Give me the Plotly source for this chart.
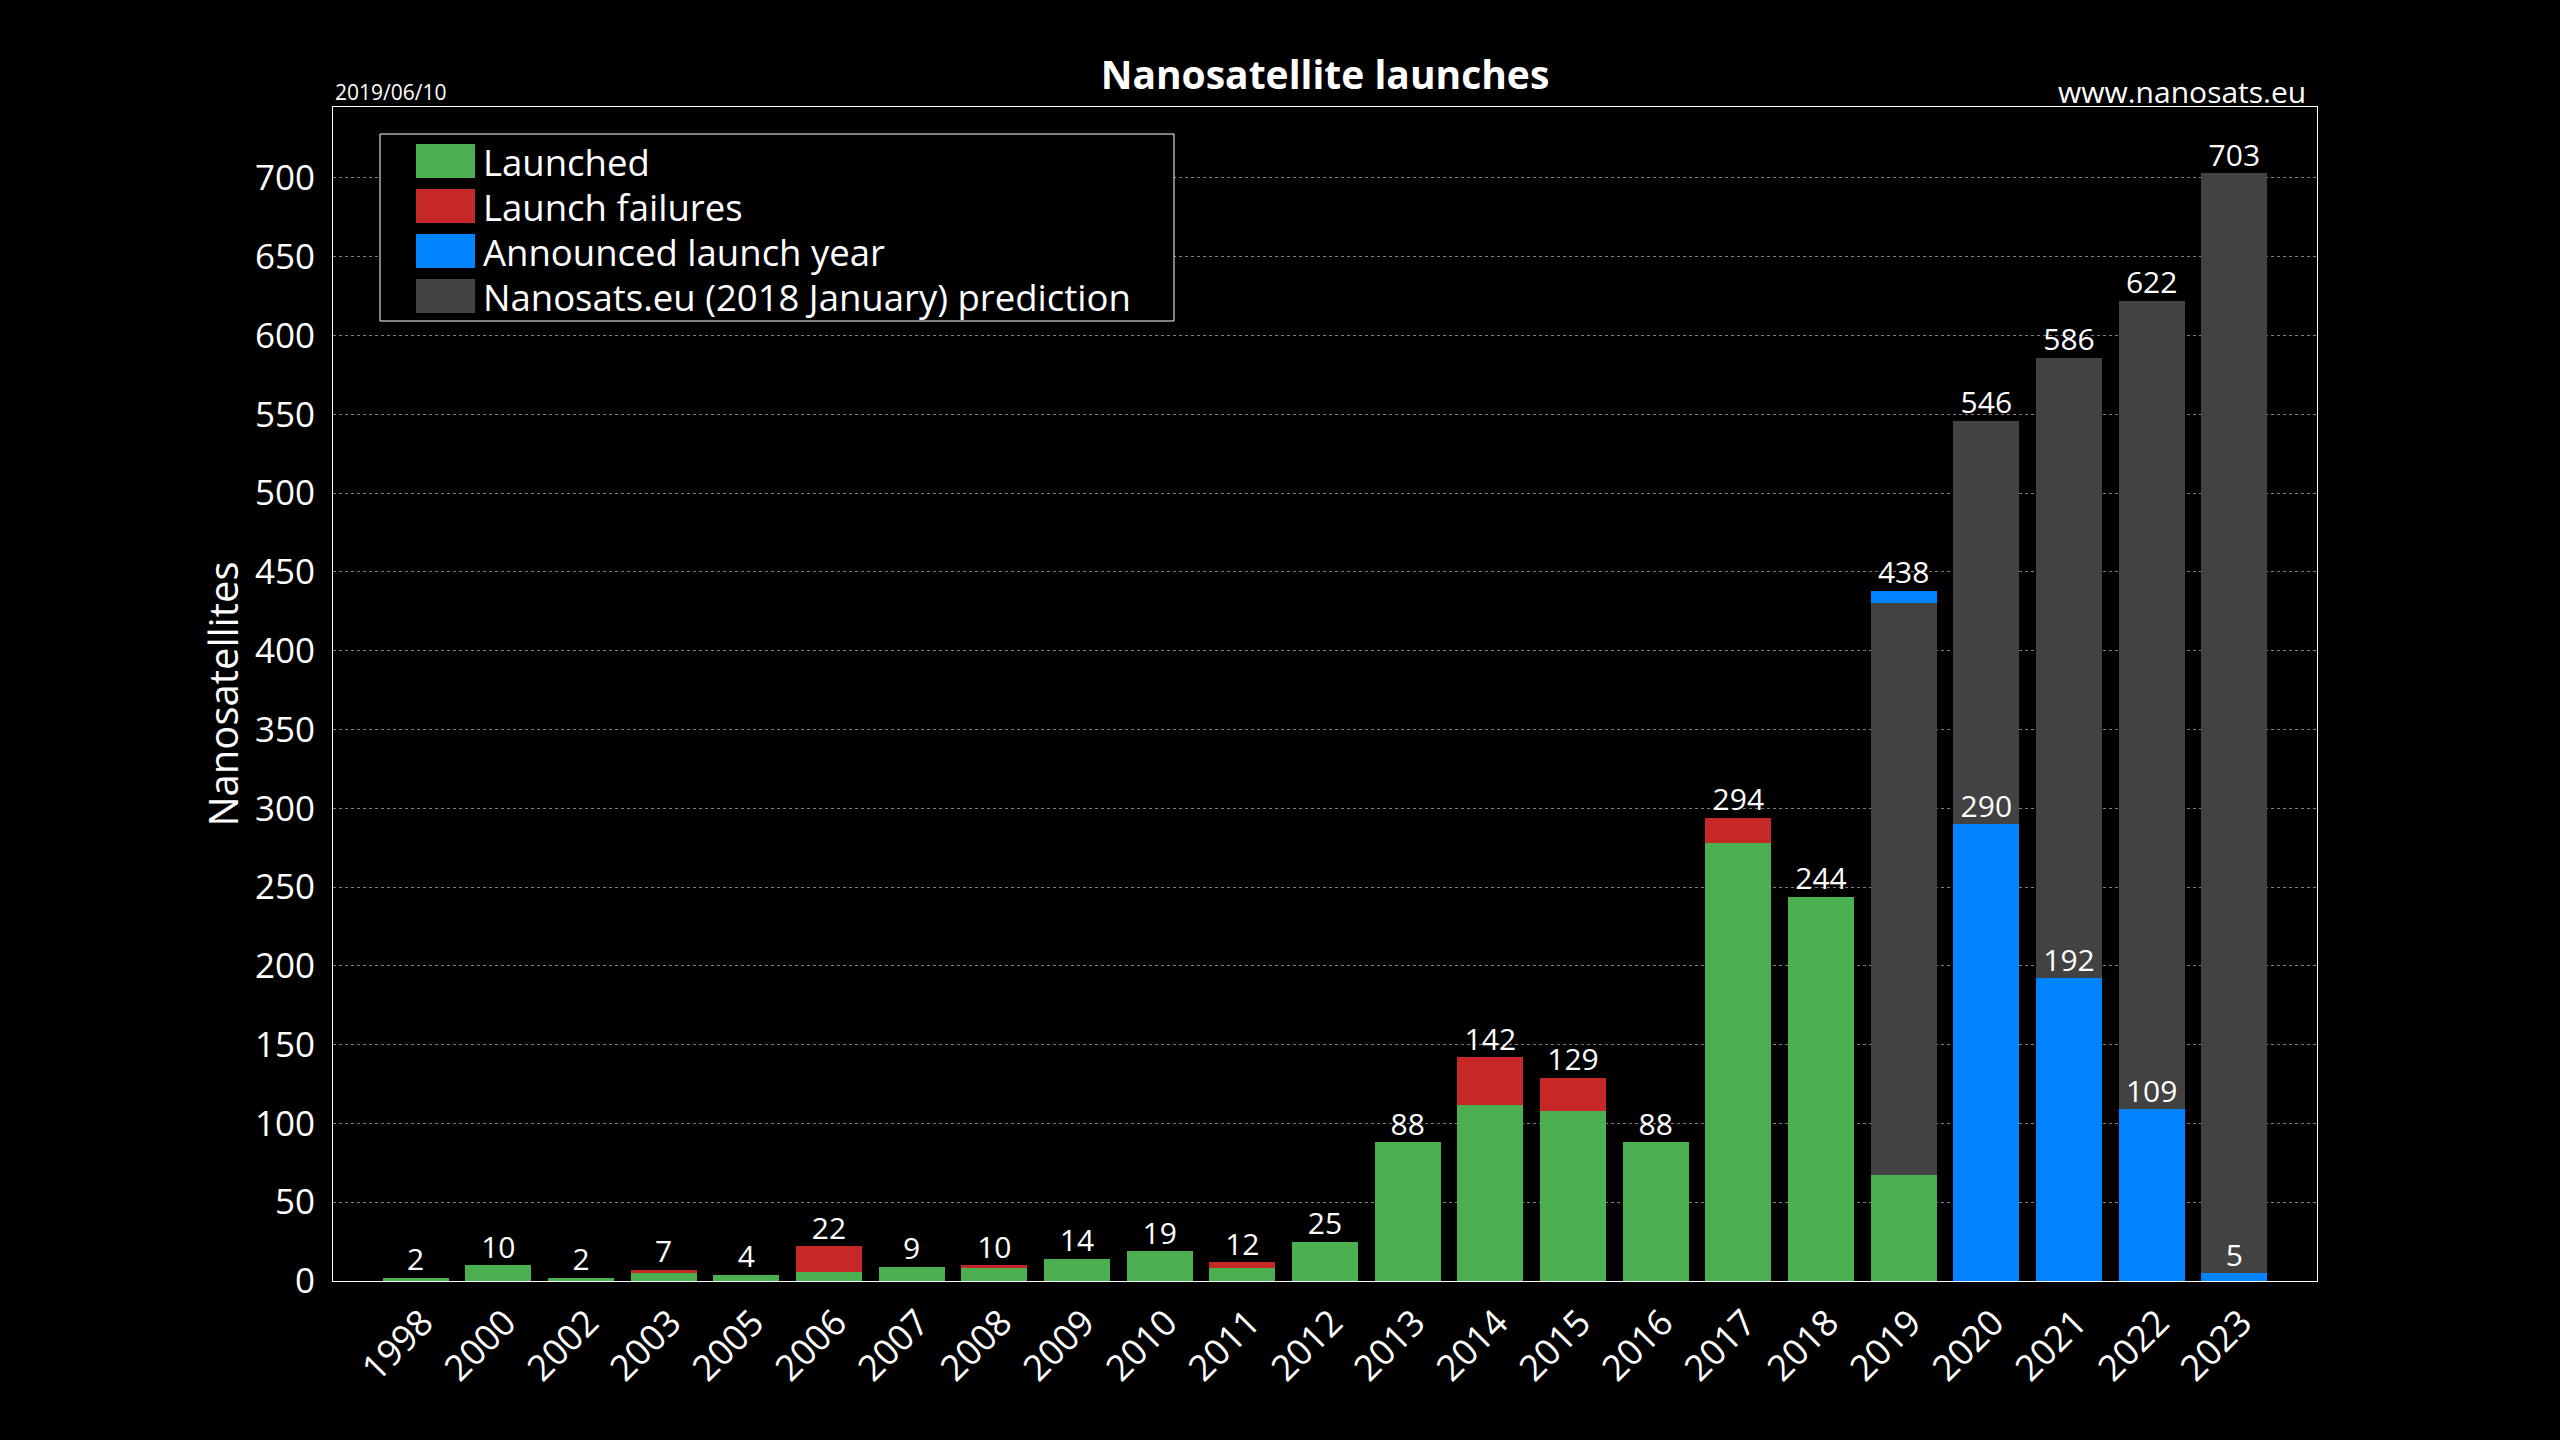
import plotly.graph_objects as go

# ---------------- data ----------------
years = ['1998', '2000', '2002', '2003', '2005', '2006', '2007', '2008', '2009', '2010',
         '2011', '2012', '2013', '2014', '2015', '2016', '2017', '2018', '2019', '2020',
         '2021', '2022', '2023']
launched = [2, 10, 2, 5, 4, 6, 9, 8, 14, 19, 8, 25, 88, 112, 108, 88, 278, 244, 67, 0, 0, 0, 0]
failures = [0, 0, 0, 2, 0, 16, 0, 2, 0, 0, 4, 0, 0, 30, 21, 0, 16, 0, 0, 0, 0, 0, 0]
announced = [0, 0, 0, 0, 0, 0, 0, 0, 0, 0, 0, 0, 0, 0, 0, 0, 0, 0, 8, 290, 192, 109, 5]
prediction = [0, 0, 0, 0, 0, 0, 0, 0, 0, 0, 0, 0, 0, 0, 0, 0, 0, 0, 363, 256, 394, 513, 698]

series_names = ['Launched', 'Launch failures', 'Announced launch year',
                'Nanosats.eu (2018 January) prediction']
series_colors = ['#4caf50', '#c62828', '#0084ff', '#424242']

title_text = 'Nanosatellite launches'
date_text = '2019/06/10'
site_text = 'www.nanosats.eu'
y_title = 'Nanosatellites'

# ---------------- derived ----------------
totals = [a + b + c + d for a, b, c, d in zip(launched, failures, announced, prediction)]
# announced segment sits at the bottom for future years, on top when launches exist
ann_bottom = [a if l == 0 else 0 for a, l in zip(announced, launched)]
ann_top = [a if l > 0 else 0 for a, l in zip(announced, launched)]
ann_label_x = [y for y, a, l in zip(years, announced, launched) if a > 0 and l == 0]
ann_label_y = [a for a, l in zip(announced, launched) if a > 0 and l == 0]

FONT = 'Open Sans'
W, H = 2560, 1440
ML, MR, MT, MB = 333, 243, 107, 159
PW, PH = W - ML - MR, H - MT - MB


def px(x):
    return (x - ML) / PW


def py(y):
    return (H - MB - y) / PH


fig = go.Figure()
bar_common = dict(x=years, marker_line_width=0, hoverinfo='x+y', showlegend=False)
fig.add_trace(go.Bar(y=launched, name=series_names[0], marker_color=series_colors[0], **bar_common))
fig.add_trace(go.Bar(y=failures, name=series_names[1], marker_color=series_colors[1], **bar_common))
fig.add_trace(go.Bar(y=ann_bottom, name=series_names[2], marker_color=series_colors[2], **bar_common))
fig.add_trace(go.Bar(y=prediction, name=series_names[3], marker_color=series_colors[3], **bar_common))
fig.add_trace(go.Bar(y=ann_top, name=series_names[2], marker_color=series_colors[2], **bar_common))

fig.add_trace(go.Scatter(x=years, y=totals, text=[str(t) for t in totals], mode='text',
                         textposition='top center', showlegend=False, hoverinfo='skip',
                         textfont=dict(family=FONT, size=30, color='white')))
fig.add_trace(go.Scatter(x=ann_label_x, y=ann_label_y, text=[str(t) for t in ann_label_y],
                         mode='text', textposition='top center', showlegend=False,
                         hoverinfo='skip', textfont=dict(family=FONT, size=30, color='white')))

# ---------------- manual legend ----------------
shapes = [dict(type='rect', xref='paper', yref='paper', x0=px(380), x1=px(1174),
               y0=py(321), y1=py(134), line=dict(color='white', width=1),
               fillcolor='black', layer='above')]
annotations = []
for i, (nm, col) in enumerate(zip(series_names, series_colors)):
    top = 144 + 45 * i
    shapes.append(dict(type='rect', xref='paper', yref='paper', x0=px(416), x1=px(475),
                       y0=py(top + 34), y1=py(top), line=dict(width=0), fillcolor=col,
                       layer='above'))
    annotations.append(dict(text=nm, xref='paper', yref='paper', x=px(481), y=py(top + 18),
                            xanchor='left', yanchor='middle', showarrow=False,
                            font=dict(family=FONT, size=36.5, color='white')))

annotations.append(dict(text=date_text, xref='paper', yref='paper', x=0, y=py(92),
                        xanchor='left', yanchor='middle', showarrow=False,
                        font=dict(family=FONT, size=21, color='white')))
annotations.append(dict(text=site_text, xref='paper', yref='paper', x=px(2308), y=py(92),
                        xanchor='right', yanchor='middle', showarrow=False,
                        font=dict(family=FONT, size=30, color='white')))

fig.update_layout(
    width=W, height=H,
    margin=dict(l=ML, r=MR, t=MT, b=MB, pad=0),
    paper_bgcolor='black', plot_bgcolor='black',
    font=dict(family=FONT, color='white'),
    barmode='stack', bargap=0.2,
    showlegend=False,
    title=dict(text='<b>' + title_text + '</b>', x=0.5, xref='paper', xanchor='center',
               y=1 - 75 / H, yanchor='middle',
               font=dict(family=FONT, size=39, color='white')),
    shapes=shapes, annotations=annotations,
)
fig.update_xaxes(type='category', range=[-1, len(years)], tickangle=-45,
                 tickfont=dict(family=FONT, size=36, color='white'),
                 showline=True, mirror=True, linecolor='white', linewidth=1,
                 showgrid=False, ticks='', zeroline=False,
                 ticklabelshift=7, ticklabelstandoff=5)
fig.update_yaxes(range=[0, 745], tick0=0, dtick=50,
                 tickfont=dict(family=FONT, size=35, color='white'),
                 showgrid=True, gridcolor='#808080', gridwidth=1, griddash='dot',
                 showline=True, mirror=True, linecolor='white', linewidth=1,
                 ticks='', zeroline=False, ticklabelstandoff=10,
                 title=dict(text=y_title, standoff=3,
                            font=dict(family=FONT, size=40, color='white')))

fig.write_html('out.html',
               config={'displayModeBar': False},
               post_script="document.body.style.margin='0';"
                           "document.body.style.background='black';"
                           "document.body.style.overflow='hidden';")
